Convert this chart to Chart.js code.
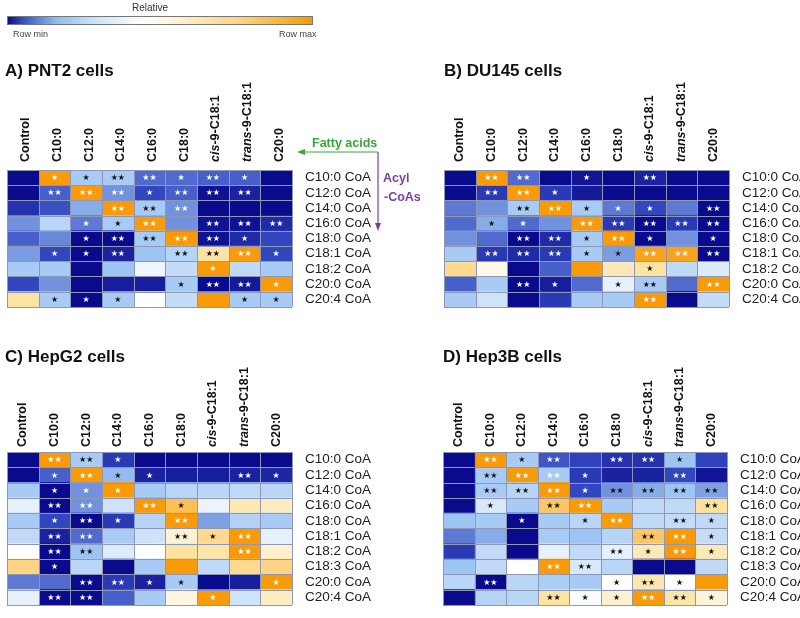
<!DOCTYPE html>
<html>
<head>
<meta charset="utf-8">
<script src="https://cdn.jsdelivr.net/npm/chart.js@4.4.1/dist/chart.umd.min.js"></script>
<style>
  html, body { margin: 0; padding: 0; background: #fff; }
  #page { position: relative; width: 800px; height: 618px; overflow: hidden; }
  canvas { position: absolute; }
  svg { position: absolute; left: 0; top: 0; pointer-events: none; }
</style>
</head>
<body>
<div id="page">
  <canvas id="chartA" width="400" height="320" style="left:0;top:0"></canvas>
  <canvas id="chartB" width="400" height="320" style="left:400px;top:0"></canvas>
  <canvas id="chartC" width="400" height="318" style="left:0;top:300px"></canvas>
  <canvas id="chartD" width="400" height="318" style="left:400px;top:300px"></canvas>
  <svg width="800" height="618" font-family="Liberation Sans, Arial, sans-serif">
    <defs>
      <linearGradient id="rel" x1="0" x2="1" y1="0" y2="0">
        <stop offset="0" stop-color="#0a0a8c"/>
        <stop offset="0.06" stop-color="#3a5cc8"/>
        <stop offset="0.16" stop-color="#8fbdf0"/>
        <stop offset="0.30" stop-color="#d2e6fa"/>
        <stop offset="0.45" stop-color="#ffffff"/>
        <stop offset="0.58" stop-color="#fdefc8"/>
        <stop offset="0.78" stop-color="#fcd07a"/>
        <stop offset="1" stop-color="#f59a00"/>
      </linearGradient>
    </defs>
    <text x="150" y="11" font-size="10" fill="#333" text-anchor="middle">Relative</text>
    <rect x="7.5" y="16.5" width="305" height="8" fill="url(#rel)" stroke="#777" stroke-width="1"/>
    <text x="13" y="37" font-size="9" fill="#444">Row min</text>
    <text x="279" y="37" font-size="9" fill="#444">Row max</text>

    <text x="5" y="76" font-size="17" font-weight="bold" fill="#111">A) PNT2 cells</text>
    <text x="444" y="76" font-size="17" font-weight="bold" fill="#111">B) DU145 cells</text>
    <text x="5" y="362" font-size="17" font-weight="bold" fill="#111">C) HepG2 cells</text>
    <text x="443" y="362" font-size="17" font-weight="bold" fill="#111">D) Hep3B cells</text>

    <line x1="378" y1="152" x2="303" y2="152" stroke="#3aa53a" stroke-width="1.2"/>
    <polygon points="297,152 305,149 305,155" fill="#3aa53a"/>
    <text x="312" y="146.5" font-size="12.5" font-weight="bold" fill="#3aa53a">Fatty acids</text>
    <line x1="378" y1="152" x2="378" y2="225" stroke="#7b3fa0" stroke-width="1.2"/>
    <polygon points="378,231 375,223 381,223" fill="#7b3fa0"/>
    <text x="383" y="182" font-size="12.5" font-weight="bold" fill="#7b3fa0">Acyl</text>
    <text x="384" y="201" font-size="12.5" font-weight="bold" fill="#7b3fa0">-CoAs</text>
  </svg>
</div>
<script>
const fattyAcids = ["Control", "C10:0", "C12:0", "C14:0", "C16:0", "C18:0", "cis-9-C18:1", "trans-9-C18:1", "C20:0"];

const acylCoAsProstate = ["C10:0 CoA", "C12:0 CoA", "C14:0 CoA", "C16:0 CoA", "C18:0 CoA", "C18:1 CoA", "C18:2 CoA", "C20:0 CoA", "C20:4 CoA"];
const acylCoAsLiver = ["C10:0 CoA", "C12:0 CoA", "C14:0 CoA", "C16:0 CoA", "C18:0 CoA", "C18:1 CoA", "C18:2 CoA", "C18:3 CoA", "C20:0 CoA", "C20:4 CoA"];

// relative level per row, 0 = row min, 1 = row max
const valuesPNT2 = [
  [0, 1, 0.42, 0.42, 0.22, 0.22, 0.2, 0.2, 0],
  [0, 0.2, 1, 0.3, 0.15, 0.2, 0.02, 0.06, 0],
  [0.1, 0.17, 0.35, 1, 0.42, 0.3, 0, 0, 0],
  [0.3, 0.46, 0.25, 0.42, 1, 0.3, 0.02, 0.02, 0.08],
  [0.2, 0.28, 0, 0, 0.42, 1, 0.02, 0.08, 0.15],
  [0.32, 0.15, 0, 0.06, 0.4, 0.45, 0.75, 1, 0.15],
  [0.42, 0.42, 0, 0.4, 0.57, 0.48, 1, 0.47, 0.42],
  [0.15, 0.3, 0, 0.05, 0.05, 0.42, 0, 0.04, 1],
  [0.75, 0.42, 0, 0.42, 0.6, 0.48, 1, 0.42, 0.42]
];
// w = white star, k = black star, digit = number of stars
const starsPNT2 = [
  ["", "w1", "k1", "k2", "w2", "w1", "w2", "w1", ""],
  ["", "w2", "w2", "w2", "w1", "w2", "w2", "w2", ""],
  ["", "", "", "w2", "k2", "w2", "", "", ""],
  ["", "", "w1", "k1", "w2", "", "w2", "w2", "w2"],
  ["", "", "w1", "w2", "k2", "w2", "w2", "w1", ""],
  ["", "w1", "w1", "w2", "", "k2", "k2", "w2", "w1"],
  ["", "", "", "", "", "", "w1", "", ""],
  ["", "", "", "", "", "k1", "w2", "w2", "w1"],
  ["", "k1", "w1", "k1", "", "", "", "k1", "k1"]
];

const valuesDU145 = [
  [0, 1, 0.22, 0, 0.03, 0, 0.06, 0, 0],
  [0, 0.12, 1, 0.12, 0.04, 0, 0, 0, 0],
  [0.25, 0.3, 0.42, 1, 0.42, 0.25, 0.15, 0.25, 0],
  [0.22, 0.35, 0.22, 0.3, 1, 0.12, 0, 0.12, 0],
  [0.3, 0.22, 0, 0.08, 0.42, 1, 0, 0.3, 0],
  [0.42, 0.12, 0.08, 0.12, 0.42, 0.32, 0.97, 0.97, 0],
  [0.78, 0.63, 0, 0.2, 1, 0.72, 0.75, 0.47, 0.53],
  [0.2, 0.42, 0, 0.05, 0.22, 0.55, 0.42, 0.22, 1],
  [0.42, 0.5, 0, 0.12, 0.42, 0.42, 1, 0, 0.48]
];
const starsDU145 = [
  ["", "w2", "w2", "", "w1", "", "w2", "", ""],
  ["", "w2", "w2", "w1", "", "", "", "", ""],
  ["", "", "k2", "w2", "k1", "w1", "w1", "", "w2"],
  ["", "k1", "w1", "", "w2", "w2", "w2", "w2", "w2"],
  ["", "", "w2", "w2", "k1", "w2", "w1", "", "w1"],
  ["", "w2", "w2", "w2", "k1", "k1", "w2", "w2", "w2"],
  ["", "", "", "", "", "", "k1", "", ""],
  ["", "", "w2", "w1", "", "k1", "k2", "", "w2"],
  ["", "", "", "", "", "", "w2", "", ""]
];

const valuesHepG2 = [
  [0, 1, 0.42, 0.12, 0, 0, 0, 0, 0],
  [0, 0.2, 1, 0.38, 0.06, 0.05, 0.05, 0.06, 0.07],
  [0.42, 0, 0.3, 1, 0.42, 0.46, 0.46, 0.47, 0.46],
  [0.55, 0, 0.3, 0.5, 1, 0.87, 0.56, 0.72, 0.7],
  [0.42, 0.15, 0, 0.12, 0.45, 1, 0.33, 0.44, 0.42],
  [0.47, 0.06, 0.22, 0.42, 0.5, 0.67, 0.78, 1, 0.55],
  [0.6, 0, 0.4, 0.53, 0.6, 0.75, 0.74, 1, 0.68],
  [0.8, 0, 0.46, 0, 0.42, 1, 0.47, 0.78, 0.8],
  [0.25, 0.22, 0, 0.12, 0.06, 0.42, 0, 0.05, 1],
  [0.55, 0, 0, 0.2, 0.42, 0.65, 1, 0.5, 0.7]
];
const starsHepG2 = [
  ["", "w2", "k2", "w1", "", "", "", "", ""],
  ["", "w1", "w2", "k1", "w1", "", "", "w2", "w1"],
  ["", "w1", "w1", "w1", "", "", "", "", ""],
  ["", "w2", "w2", "", "w2", "k1", "", "", ""],
  ["", "w1", "w2", "w1", "", "w2", "", "", ""],
  ["", "w2", "w2", "", "", "k2", "k1", "w2", ""],
  ["", "w2", "k2", "", "", "", "", "w2", ""],
  ["", "w1", "", "", "", "", "", "", ""],
  ["", "", "w2", "w2", "w1", "k1", "", "", "w1"],
  ["", "w2", "w2", "", "", "", "w1", "", ""]
];

const valuesHep3B = [
  [0, 1, 0.42, 0.18, 0.14, 0.1, 0.1, 0.4, 0.14],
  [0, 0.42, 1, 0.42, 0.12, 0.06, 0.06, 0.15, 0.03],
  [0, 0.42, 0.45, 1, 0.15, 0.3, 0.35, 0.4, 0.33],
  [0, 0.52, 0.42, 0.85, 1, 0.42, 0.47, 0.47, 0.76],
  [0.4, 0.42, 0, 0.42, 0.46, 1, 0.47, 0.48, 0.47],
  [0.25, 0.35, 0, 0.42, 0.4, 0.45, 0.85, 1, 0.48],
  [0.12, 0.47, 0, 0.55, 0.47, 0.55, 0.72, 1, 0.72],
  [0.4, 0.47, 0.6, 1, 0.52, 0.46, 0, 0, 0.47],
  [0.46, 0, 0.46, 0.43, 0.42, 0.6, 0.73, 0.6, 1],
  [0, 0.45, 0.46, 0.75, 0.59, 0.68, 1, 0.74, 0.66]
];
const starsHep3B = [
  ["", "w2", "k1", "w2", "", "w2", "w2", "k1", ""],
  ["", "k2", "w2", "w2", "w1", "", "", "w2", ""],
  ["", "k2", "k2", "w2", "w1", "k2", "k2", "k2", "k2"],
  ["", "k1", "", "k2", "w2", "", "", "", "k2"],
  ["", "", "w1", "", "k1", "w2", "", "k2", "k1"],
  ["", "", "", "", "", "", "k2", "w2", "k1"],
  ["", "", "", "", "", "k2", "k1", "w2", "k1"],
  ["", "", "", "w2", "k2", "", "", "", ""],
  ["", "w2", "", "", "", "k1", "k2", "k1", ""],
  ["", "", "", "k2", "k1", "k1", "w2", "k2", "k1"]
];

const colorStops = [
  [0, [10, 10, 140]],
  [0.15, [50, 70, 190]],
  [0.4, [157, 197, 243]],
  [0.6, [255, 255, 255]],
  [0.75, [253, 227, 162]],
  [1, [249, 154, 8]]
];

function heatColor(v) {
  for (let i = 1; i < colorStops.length; i++) {
    const [p1, c1] = colorStops[i];
    const [p0, c0] = colorStops[i - 1];
    if (v <= p1) {
      const t = (v - p0) / (p1 - p0);
      const c = c0.map((x, k) => Math.round(x + (c1[k] - x) * t));
      return `rgb(${c[0]},${c[1]},${c[2]})`;
    }
  }
  return "rgb(249,154,8)";
}

function makePanel(id, rows, values, stars, pad, axisWidth, headerGap, headerShift) {
  const datasets = fattyAcids.map((fa, c) => ({
    label: fa,
    data: rows.map(() => [c, c + 1]),
    backgroundColor: rows.map((r, i) => heatColor(values[i][c])),
    borderWidth: 0,
    grouped: false,
    categoryPercentage: 1,
    barPercentage: 1
  }));

  const cells = {
    id: "cells",
    afterDatasetsDraw(chart) {
      const { ctx, chartArea: a, scales: { x, y } } = chart;
      const rowH = (a.bottom - a.top) / rows.length;
      ctx.save();

      // cell borders
      ctx.strokeStyle = "#8e98b6";
      ctx.lineWidth = 1;
      ctx.beginPath();
      for (let c = 0; c <= fattyAcids.length; c++) {
        const px = Math.round(x.getPixelForValue(c)) + 0.5;
        ctx.moveTo(px, a.top);
        ctx.lineTo(px, a.bottom);
      }
      for (let r = 0; r <= rows.length; r++) {
        const py = Math.round(a.top + r * rowH) + 0.5;
        ctx.moveTo(a.left, py);
        ctx.lineTo(a.right, py);
      }
      ctx.stroke();

      // significance stars
      ctx.font = '8px "DejaVu Sans"';
      ctx.textAlign = "center";
      ctx.textBaseline = "middle";
      stars.forEach((row, r) => row.forEach((s, c) => {
        if (!s) return;
        ctx.fillStyle = s[0] === "w" ? "#ffffff" : "#111111";
        ctx.fillText("★".repeat(Number(s[1])), x.getPixelForValue(c + 0.5), y.getPixelForValue(r) + 0.5);
      }));

      // rotated column headers, cis / trans in italics
      ctx.fillStyle = "#111";
      ctx.textAlign = "left";
      fattyAcids.forEach((fa, c) => {
        const m = fa.match(/^(cis|trans)(.*)$/);
        ctx.save();
        ctx.translate(x.getPixelForValue(c + 0.5) + headerShift, a.top - headerGap);
        ctx.rotate(-Math.PI / 2);
        let off = 0;
        if (m) {
          ctx.font = 'italic bold 12.5px "Liberation Sans"';
          ctx.fillText(m[1], 0, 0);
          off = ctx.measureText(m[1]).width;
        }
        ctx.font = 'bold 12.5px "Liberation Sans"';
        ctx.fillText(m ? m[2] : fa, off, 0);
        ctx.restore();
      });
      ctx.restore();
    }
  };

  new Chart(document.getElementById(id), {
    type: "bar",
    data: { labels: rows, datasets: datasets },
    options: {
      indexAxis: "y",
      responsive: false,
      animation: false,
      layout: { padding: pad },
      plugins: { legend: { display: false }, tooltip: { enabled: false } },
      scales: {
        x: { type: "linear", min: 0, max: fattyAcids.length, display: false },
        y: {
          position: "right",
          grid: { display: false },
          border: { display: false },
          ticks: { color: "#222", padding: 5, autoSkip: false, font: { family: "Liberation Sans", size: 13.5 } },
          afterFit: (s) => { s.width = axisWidth; }
        }
      }
    },
    plugins: [cells]
  });
}

makePanel("chartA", acylCoAsProstate, valuesPNT2, starsPNT2, { left: 7, top: 170, right: 0, bottom: 7 }, 108, 8, 3);
makePanel("chartB", acylCoAsProstate, valuesDU145, starsDU145, { left: 44, top: 170, right: 0, bottom: 7 }, 71, 8, 0);
makePanel("chartC", acylCoAsLiver, valuesHepG2, starsHepG2, { left: 7, top: 152, right: 0, bottom: 7 }, 108, 5, 0);
makePanel("chartD", acylCoAsLiver, valuesHep3B, starsHep3B, { left: 43, top: 152, right: 0, bottom: 7 }, 73, 5, 0);
</script>
</body>
</html>
